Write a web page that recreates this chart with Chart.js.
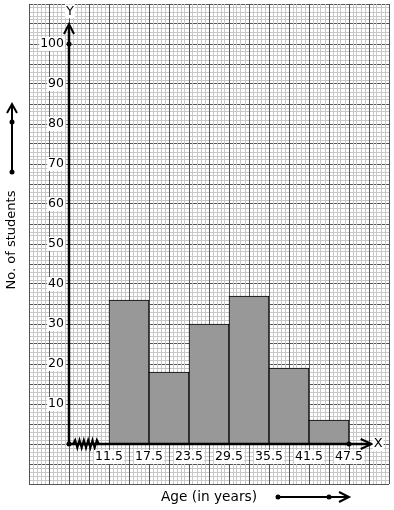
<!DOCTYPE html>
<html>
<head>
<meta charset="utf-8">
<script src="https://cdn.jsdelivr.net/npm/chart.js@4"></script>
<style>
  html, body { margin: 0; padding: 0; background: #fff; }
  #wrap { width: 394px; height: 510px; position: relative; }
</style>
</head>
<body>
<div id="wrap"><canvas id="c" width="394" height="510"></canvas></div>
<script>
// ---- data ----
const classEdges = [11.5, 17.5, 23.5, 29.5, 35.5, 41.5, 47.5];
const students = [36, 18, 30, 37, 19, 6];
const yTickValues = [10, 20, 30, 40, 50, 60, 70, 80, 90, 100];
const xTickLabels = ['11.5', '17.5', '23.5', '29.5', '35.5', '41.5', '47.5'];
const xOrigin = 5.5;           // break point on the x axis (origin)
const yTitle = 'No. of students';
const xTitle = 'Age (in years)';

const barPoints = students.map((v, i) => ({ x: (classEdges[i] + classEdges[i + 1]) / 2, y: v }));

const FONT = '"DejaVu Sans", sans-serif';

function crisp(v) { return Math.round(v - 0.5) + 0.5; }

const gridPlugin = {
  id: 'graphPaper',
  beforeDatasetsDraw(chart) {
    const { ctx, chartArea: a, scales: { x, y } } = chart;
    ctx.save();
    ctx.lineWidth = 1;
    const hLines = (step, color) => {
      ctx.strokeStyle = color;
      ctx.beginPath();
      for (let v = y.min; v <= y.max + 1e-6; v += step) {
        const py = crisp(y.getPixelForValue(v));
        ctx.moveTo(a.left, py); ctx.lineTo(a.right, py);
      }
      ctx.stroke();
    };
    const vLines = (step, color) => {
      ctx.strokeStyle = color;
      ctx.beginPath();
      const n = Math.round((x.max - x.min) / step);
      for (let k = 0; k <= n; k++) {
        const px = crisp(x.getPixelForValue(x.min + k * step));
        ctx.moveTo(px, a.top); ctx.lineTo(px, a.bottom);
      }
      ctx.stroke();
    };
    hLines(1, '#c8c8c8');
    hLines(5, '#555555');
    vLines(0.6, '#c8c8c8');
    vLines(3, '#555555');
    ctx.restore();
  }
};

function dot(ctx, px, py, r) {
  ctx.beginPath(); ctx.arc(px, py, r, 0, Math.PI * 2); ctx.fill();
}
function arrowHead(ctx, px, py, dir, len, half) {
  ctx.beginPath();
  if (dir === 'up') {
    ctx.moveTo(px - half, py + len); ctx.lineTo(px, py); ctx.lineTo(px + half, py + len);
  } else {
    ctx.moveTo(px - len, py - half); ctx.lineTo(px, py); ctx.lineTo(px - len, py + half);
  }
  ctx.stroke();
}
function boxedText(ctx, text, px, py, align) {
  ctx.textAlign = align;
  ctx.textBaseline = 'middle';
  const w = ctx.measureText(text).width;
  let left = align === 'right' ? px - w : (align === 'center' ? px - w / 2 : px);
  ctx.fillStyle = '#fff';
  ctx.fillRect(left - 1, py - 7, w + 2, 14);
  ctx.fillStyle = '#000';
  ctx.fillText(text, px, py);
}

const axesPlugin = {
  id: 'axesDecor',
  afterDatasetsDraw(chart) {
    const { ctx, scales: { x, y } } = chart;
    const ox = x.getPixelForValue(xOrigin);
    const oy = y.getPixelForValue(0);
    ctx.save();
    ctx.strokeStyle = '#000';
    ctx.fillStyle = '#000';
    ctx.lineCap = 'butt';
    ctx.lineJoin = 'miter';
    // y axis
    const yTop = y.getPixelForValue(105);
    ctx.lineWidth = 2.5;
    ctx.beginPath(); ctx.moveTo(ox, oy); ctx.lineTo(ox, yTop + 1); ctx.stroke();
    ctx.lineWidth = 2;
    arrowHead(ctx, ox, yTop, 'up', 10, 5);
    // x axis
    const xEnd = x.getPixelForValue(50.9);
    ctx.lineWidth = 2.5;
    ctx.beginPath(); ctx.moveTo(ox, oy); ctx.lineTo(xEnd - 1, oy); ctx.stroke();
    ctx.lineWidth = 2;
    arrowHead(ctx, xEnd, oy, 'right', 11, 5);
    // zigzag break
    ctx.lineWidth = 2;
    ctx.beginPath();
    const z0 = ox + 4, z1 = ox + 30;
    ctx.moveTo(z0, oy);
    const n = 12;
    for (let k = 1; k <= n; k++) {
      const px = z0 + (z1 - z0) * k / n;
      const py = k === n ? oy : oy + (k % 2 ? -4 : 4);
      ctx.lineTo(px, py);
    }
    ctx.stroke();
    // dots
    dot(ctx, ox, oy, 2.5);
    dot(ctx, ox, y.getPixelForValue(100), 2.5);
    dot(ctx, x.getPixelForValue(classEdges[classEdges.length - 1]), oy, 2.5);

    // tick labels
    ctx.font = '12.5px ' + FONT;
    yTickValues.forEach(v => boxedText(ctx, String(v), ox - 5, y.getPixelForValue(v), 'right'));
    xTickLabels.forEach((t, i) => boxedText(ctx, t, x.getPixelForValue(classEdges[i]), oy + 13, 'center'));
    // axis letters
    ctx.font = '13px ' + FONT;
    boxedText(ctx, 'Y', ox + 1, y.getPixelForValue(108.2), 'center');
    boxedText(ctx, 'X', xEnd + 2, oy, 'left');

    // y title (rotated) + arrow
    ctx.font = '13px ' + FONT;
    ctx.save();
    ctx.translate(12, 240);
    ctx.rotate(-Math.PI / 2);
    ctx.textAlign = 'center';
    ctx.textBaseline = 'middle';
    ctx.fillStyle = '#000';
    ctx.fillText(yTitle, 0, 0);
    ctx.restore();
    ctx.lineWidth = 2;
    ctx.beginPath(); ctx.moveTo(12, 172); ctx.lineTo(12, 104); ctx.stroke();
    arrowHead(ctx, 12, 104, 'up', 9, 5);
    dot(ctx, 12, 122, 2.5);
    dot(ctx, 12, 172, 2.5);

    // x title + arrow
    ctx.font = '13.7px ' + FONT;
    ctx.textAlign = 'left';
    ctx.textBaseline = 'middle';
    ctx.fillText(xTitle, 161, 497);
    ctx.lineWidth = 2;
    ctx.beginPath(); ctx.moveTo(278, 497); ctx.lineTo(348, 497); ctx.stroke();
    arrowHead(ctx, 349, 497, 'right', 10, 5);
    dot(ctx, 278, 497, 2.5);
    dot(ctx, 329, 497, 2.5);
    ctx.restore();
  }
};

new Chart(document.getElementById('c'), {
  type: 'bar',
  data: {
    datasets: [{
      data: barPoints,
      backgroundColor: '#989898',
      borderColor: '#000',
      borderWidth: 1,
      borderSkipped: false,
      barPercentage: 1,
      categoryPercentage: 1
    }]
  },
  options: {
    responsive: false,
    animation: false,
    events: [],
    layout: { padding: { left: 29, top: 4, right: 5, bottom: 26 } },
    plugins: { legend: { display: false }, tooltip: { enabled: false } },
    scales: {
      x: { type: 'linear', min: -0.5, max: 53.5, display: false, offset: false },
      y: { type: 'linear', min: -10, max: 110, display: false }
    }
  },
  plugins: [gridPlugin, axesPlugin]
});
</script>
</body>
</html>
